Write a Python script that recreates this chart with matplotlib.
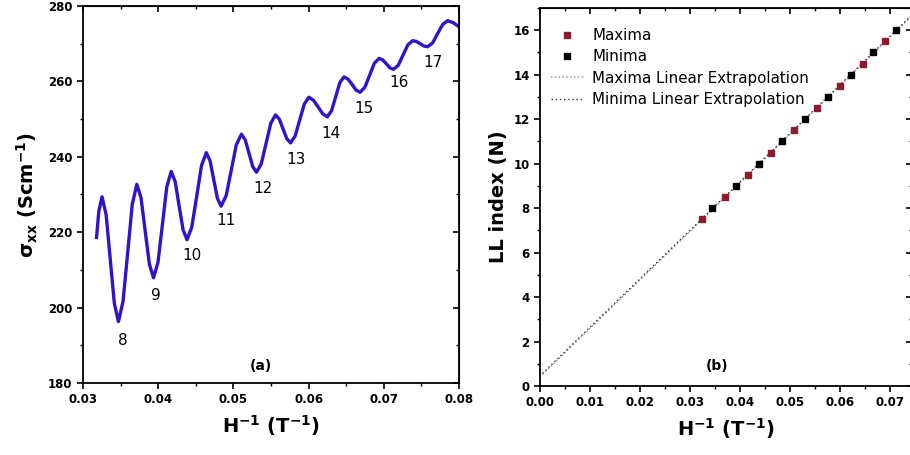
import numpy as np
import matplotlib
matplotlib.use("Agg")
import matplotlib.pyplot as plt
from matplotlib.ticker import MultipleLocator, FormatStrFormatter

# ---- Panel (a): sigma_xx vs 1/H ----
h_inv = [0.0318, 0.0321, 0.03253, 0.03308, 0.03362, 0.03417, 0.03471,
         0.03532, 0.03594, 0.03655, 0.03716, 0.03772, 0.03827, 0.03883, 0.03938,
         0.03997, 0.04056, 0.04114, 0.04173, 0.04226, 0.04278, 0.04331, 0.04383,
         0.04447, 0.04512, 0.04576, 0.0464, 0.04689, 0.04738, 0.04787, 0.04836,
         0.04904, 0.04972, 0.05039, 0.05107, 0.05157, 0.05207, 0.05257, 0.05307,
         0.0537, 0.05434, 0.05497, 0.0556, 0.0561, 0.0566, 0.0571, 0.0576,
         0.05821, 0.05882, 0.05943, 0.06004, 0.06065, 0.06127, 0.06188, 0.06249,
         0.06305, 0.0636, 0.06416, 0.06471, 0.06524, 0.06578, 0.06631, 0.06684,
         0.06747, 0.06811, 0.06874, 0.06937, 0.06985, 0.07033, 0.07081, 0.07129,
         0.07193, 0.07256, 0.0732, 0.07383, 0.07433, 0.07483, 0.07533, 0.07583,
         0.0765, 0.07716, 0.07783, 0.07849, 0.0792, 0.0800]
sigma_xx = [218.6, 225.5, 229.4, 224.6, 212.9, 201.1, 196.3,
            201.6, 214.5, 227.4, 232.7, 229.1, 220.3, 211.5, 207.9,
            212.0, 222.0, 232.0, 236.1, 233.4, 227.0, 220.6, 218.0,
            221.4, 229.5, 237.7, 241.1, 239.0, 234.0, 229.0, 226.9,
            229.7, 236.5, 243.2, 246.0, 244.5, 241.0, 237.4, 235.9,
            238.1, 243.5, 248.9, 251.1, 250.0, 247.4, 244.8, 243.7,
            245.5, 249.8, 254.0, 255.8, 255.0, 253.2, 251.4, 250.6,
            252.2, 255.9, 259.7, 261.2, 260.6, 259.2, 257.7, 257.1,
            258.4, 261.6, 264.8, 266.1, 265.7, 264.7, 263.6, 263.2,
            264.3, 267.0, 269.7, 270.8, 270.6, 270.0, 269.4, 269.2,
            270.2, 272.7, 275.1, 276.1, 275.6, 274.5]

min_labels = ["8", "9", "10", "11", "12", "13", "14", "15", "16", "17"]
label_x = [0.03523, 0.03973, 0.04453, 0.04907, 0.05387, 0.05827, 0.06293, 0.06733, 0.0720, 0.07653]
label_y = [191.4, 203.1, 213.95, 223.2, 231.7, 239.2, 246.3, 252.7, 259.6, 265.1]

# ---- Panel (b): Landau level index vs 1/H ----
max_h = [0.03247, 0.03713, 0.04173, 0.04633, 0.05087, 0.05547, 0.06013, 0.06467, 0.06913]
max_n = [7.5, 8.5, 9.5, 10.5, 11.5, 12.5, 13.5, 14.5, 15.5]
min_h = [0.03447, 0.0392, 0.04387, 0.04847, 0.0530, 0.05767, 0.06233, 0.06667, 0.0712]
min_n = [8, 9, 10, 11, 12, 13, 14, 15, 16]

plt.rcParams['font.family'] = ['DejaVu Sans']
plt.rcParams['font.weight'] = 'bold'
plt.rcParams['mathtext.default'] = 'bf'
fig = plt.figure(figsize=(9.1, 4.55), dpi=100)

def style(ax, xmaj, xmin, ymaj, ymin, xfmt, yfmt):
    ax.xaxis.set_major_locator(MultipleLocator(xmaj))
    ax.xaxis.set_minor_locator(MultipleLocator(xmin))
    ax.yaxis.set_major_locator(MultipleLocator(ymaj))
    ax.yaxis.set_minor_locator(MultipleLocator(ymin))
    ax.xaxis.set_major_formatter(FormatStrFormatter(xfmt))
    ax.yaxis.set_major_formatter(FormatStrFormatter(yfmt))
    ax.tick_params(which='major', direction='out', length=4, width=1.2, labelsize=8.5)
    ax.tick_params(which='minor', direction='out', length=2.5, width=1.0)
    for s in ax.spines.values():
        s.set_linewidth(1.3)
    sx = ax.secondary_xaxis('top')
    sx.xaxis.set_major_locator(MultipleLocator(xmaj))
    sx.xaxis.set_minor_locator(MultipleLocator(xmin))
    sx.tick_params(which='major', direction='in', length=4, width=1.2, labeltop=False)
    sx.tick_params(which='minor', direction='in', length=2.5, width=1.0)
    sy = ax.secondary_yaxis('right')
    sy.yaxis.set_major_locator(MultipleLocator(ymaj))
    sy.yaxis.set_minor_locator(MultipleLocator(ymin))
    sy.tick_params(which='major', direction='in', length=4, width=1.2, labelright=False)
    sy.tick_params(which='minor', direction='in', length=2.5, width=1.0)

# Panel (a)
ax1 = fig.add_axes([83/910, 72/455, 376/910, 377/455])
ax1.plot(h_inv, sigma_xx, color='#3312cc', lw=2.4, solid_joinstyle='round')
for t, x, y in zip(min_labels, label_x, label_y):
    ax1.text(x, y, t, fontsize=11, fontweight='normal', ha='center', va='center')
ax1.text(0.0536, 184.5, "(a)", fontsize=10, fontweight='bold', ha='center', va='center')
ax1.set_xlim(0.03, 0.08)
ax1.set_ylim(180, 280)
style(ax1, 0.01, 0.005, 20, 10, '%.2f', '%d')
ax1.set_xlabel(r"H$^{-1}$ (T$^{-1}$)", fontsize=14, fontweight='bold', labelpad=5)
ax1.set_ylabel(r"$\sigma_{xx}$ (Scm$^{-1}$)", fontsize=14, fontweight='bold', labelpad=6)

# Panel (b)
ax2 = fig.add_axes([540/910, 69/455, 372/910, 378/455])
xfit = np.array([0.0005, 0.0745])
pmax = np.polyfit(max_h, max_n, 1)
pmin = np.polyfit(min_h, min_n, 1)
ax2.plot(xfit, np.polyval(pmax, xfit), color='#9a9a9a', lw=1.1, ls=(0, (1, 1.5)),
         label="Maxima Linear Extrapolation", zorder=2)
ax2.plot(xfit, np.polyval(pmin, xfit), color='#333333', lw=1.0, ls=(0, (1, 2)),
         label="Minima Linear Extrapolation", zorder=2)
ax2.plot(max_h, max_n, 's', color='#8c1a30', ms=4.5, ls='none', label="Maxima", zorder=3)
ax2.plot(min_h, min_n, 's', color='black', ms=4.5, ls='none', label="Minima", zorder=3)
ax2.text(0.0354, 0.9, "(b)", fontsize=10, fontweight='bold', ha='center', va='center')
ax2.set_xlim(0, 0.0745)
ax2.set_ylim(0, 17)
style(ax2, 0.01, 0.005, 2, 1, '%.2f', '%d')
ax2.set_xlabel(r"H$^{-1}$ (T$^{-1}$)", fontsize=14, fontweight='bold', labelpad=5)
ax2.set_ylabel("LL index (N)", fontsize=14, fontweight='bold', labelpad=4)
h, l = ax2.get_legend_handles_labels()
order = [2, 3, 0, 1]
ax2.legend([h[i] for i in order], [l[i] for i in order], loc='upper left',
           frameon=False, prop={'size': 10.8, 'weight': 'normal'},
           handlelength=2.2, handletextpad=0.6,
           labelspacing=0.42, borderaxespad=0.3, bbox_to_anchor=(0.0, 0.975))

fig.savefig("out.png", dpi=100)
